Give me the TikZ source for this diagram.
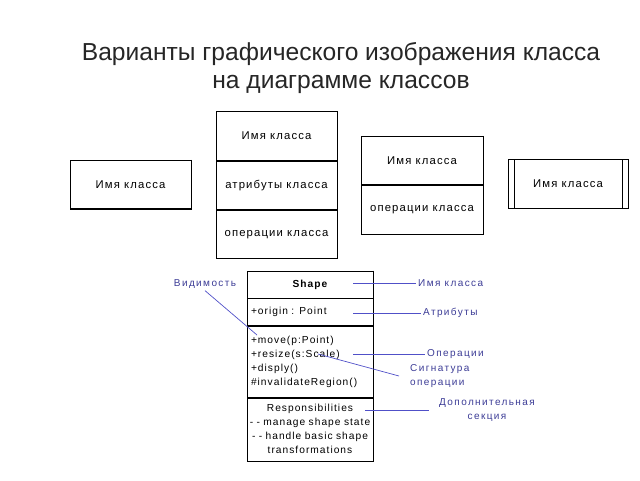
\documentclass[tikz,border=0pt]{standalone}
\usepackage{fontspec}
\setmainfont{Liberation Sans}
\newfontfamily\umlfont[LetterSpace=10]{Liberation Sans}
\newfontfamily\notefont[LetterSpace=14]{Liberation Sans}
\usetikzlibrary{positioning}
\definecolor{notecol}{RGB}{60,60,150}
\definecolor{leadcol}{RGB}{80,80,200}
\tikzstyle{cls} = [rectangle, draw = black, line width = 0.6pt, inner sep = 0pt, minimum width = 121, minimum height = 48.5, text centered, font = \umlfont\fontsize{11.3}{13}\selectfont]
\tikzstyle{sec} = [rectangle, draw = black, line width = 0.6pt, inner xsep = 4pt, inner ysep = 2pt, text width = 118, font = \umlfont\fontsize{10.2}{14}\selectfont]
\tikzstyle{note} = [inner sep = 2pt, text = notecol, align = center, font = \notefont\fontsize{10}{14}\selectfont]
\tikzstyle{lead} = [draw = leadcol, line width = 0.7pt]
\tikzstyle{edge} = [draw = black, line width = 1pt]

\begin{document}
\begin{tikzpicture}[x = 1pt, y = -1pt]
	\useasboundingbox (0,0) rectangle (640,480);
	\node (title)[align = center, text = black!85, font = \fontsize{24.6}{28}\selectfont] at (341,68) {Варианты графического изображения класса\\на диаграмме классов};

	% short forms
	\node (name1)[cls] at (130.5,184.5) {Имя класса};
	\node (name2)[cls] at (276.5,136) {Имя класса};
	\node (attr2)[cls, below = 0pt of name2] {атрибуты класса};
	\node (ops2)[cls, below = 0pt of attr2] {операции класса};
	\node (name3)[cls, minimum width = 122] at (422,160.5) {Имя класса};
	\node (ops3)[cls, minimum width = 122, below = 0pt of name3] {операции класса};
	\node (name4)[cls, minimum width = 120] at (568,184) {Имя класса};
	\draw ([xshift = 6pt]name4.north west) -- ([xshift = 6pt]name4.south west);
	\draw ([xshift = -6pt]name4.north east) -- ([xshift = -6pt]name4.south east);

	\draw [edge] (name1.north east) -- (name1.south east) -- (name1.south west);
	\draw [edge] (name2.north east) -- (ops2.south east) -- (ops2.south west);
	\draw [edge] (name3.north east) -- (ops3.south east) -- (ops3.south west);
	\draw [edge] (name4.north east) -- (name4.south east) -- (name4.south west);

	% full form
	\node (shape)[sec, minimum height = 27, align = center, font = \umlfont\bfseries\fontsize{10.2}{14}\selectfont] at (310,284.5) {Shape};
	\node (attrs)[sec, minimum height = 27, align = left, below = 0pt of shape] {+origin : Point};
	\node (opers)[sec, minimum height = 71, align = left, below = 0pt of attrs] {+move(p:Point)\\+resize(s:Scale)\\+disply()\\\#invalidateRegion()};
	\node (resp)[sec, minimum height = 63, align = center, inner xsep = 0pt, text width = 126, below = 0pt of opers] {Responsibilities\\- - manage shape state\\- - handle basic shape\\transformations};
	\draw [edge] (shape.north east) -- (resp.south east) -- (resp.south west);

	% notes
	\node (lname)[note, anchor = west] at (416,283) {Имя класса};
	\node (lattr)[note, anchor = west] at (421,313) {Атрибуты};
	\node (lops)[note, anchor = west] at (425,354) {Операции};
	\node (lsig)[note, anchor = west, align = left] at (408,376) {Сигнатура\\операции};
	\node (ldop)[note] at (487,410) {Дополнительная\\секция};
	\node (lvis)[note] at (205,284) {Видимость};

	\coordinate (cname) at (353,283);
	\coordinate (cattr) at (353,313);
	\coordinate (cops) at (353,354);
	\coordinate (csig) at (318,354);
	\coordinate (csigend) at (399,376);
	\coordinate (cdop) at (365,410);
	\coordinate (cvis) at (257,335);

	\draw [lead] (cname) -- (lname.west);
	\draw [lead] (cattr) -- (lattr.west);
	\draw [lead] (cops) -- (lops.west);
	\draw [lead] (csig) -- (csigend);
	\draw [lead, shorten > = 8pt] (cdop) -- (ldop.west);
	\draw [lead] (lvis.south) -- (cvis);
\end{tikzpicture}
\end{document}
